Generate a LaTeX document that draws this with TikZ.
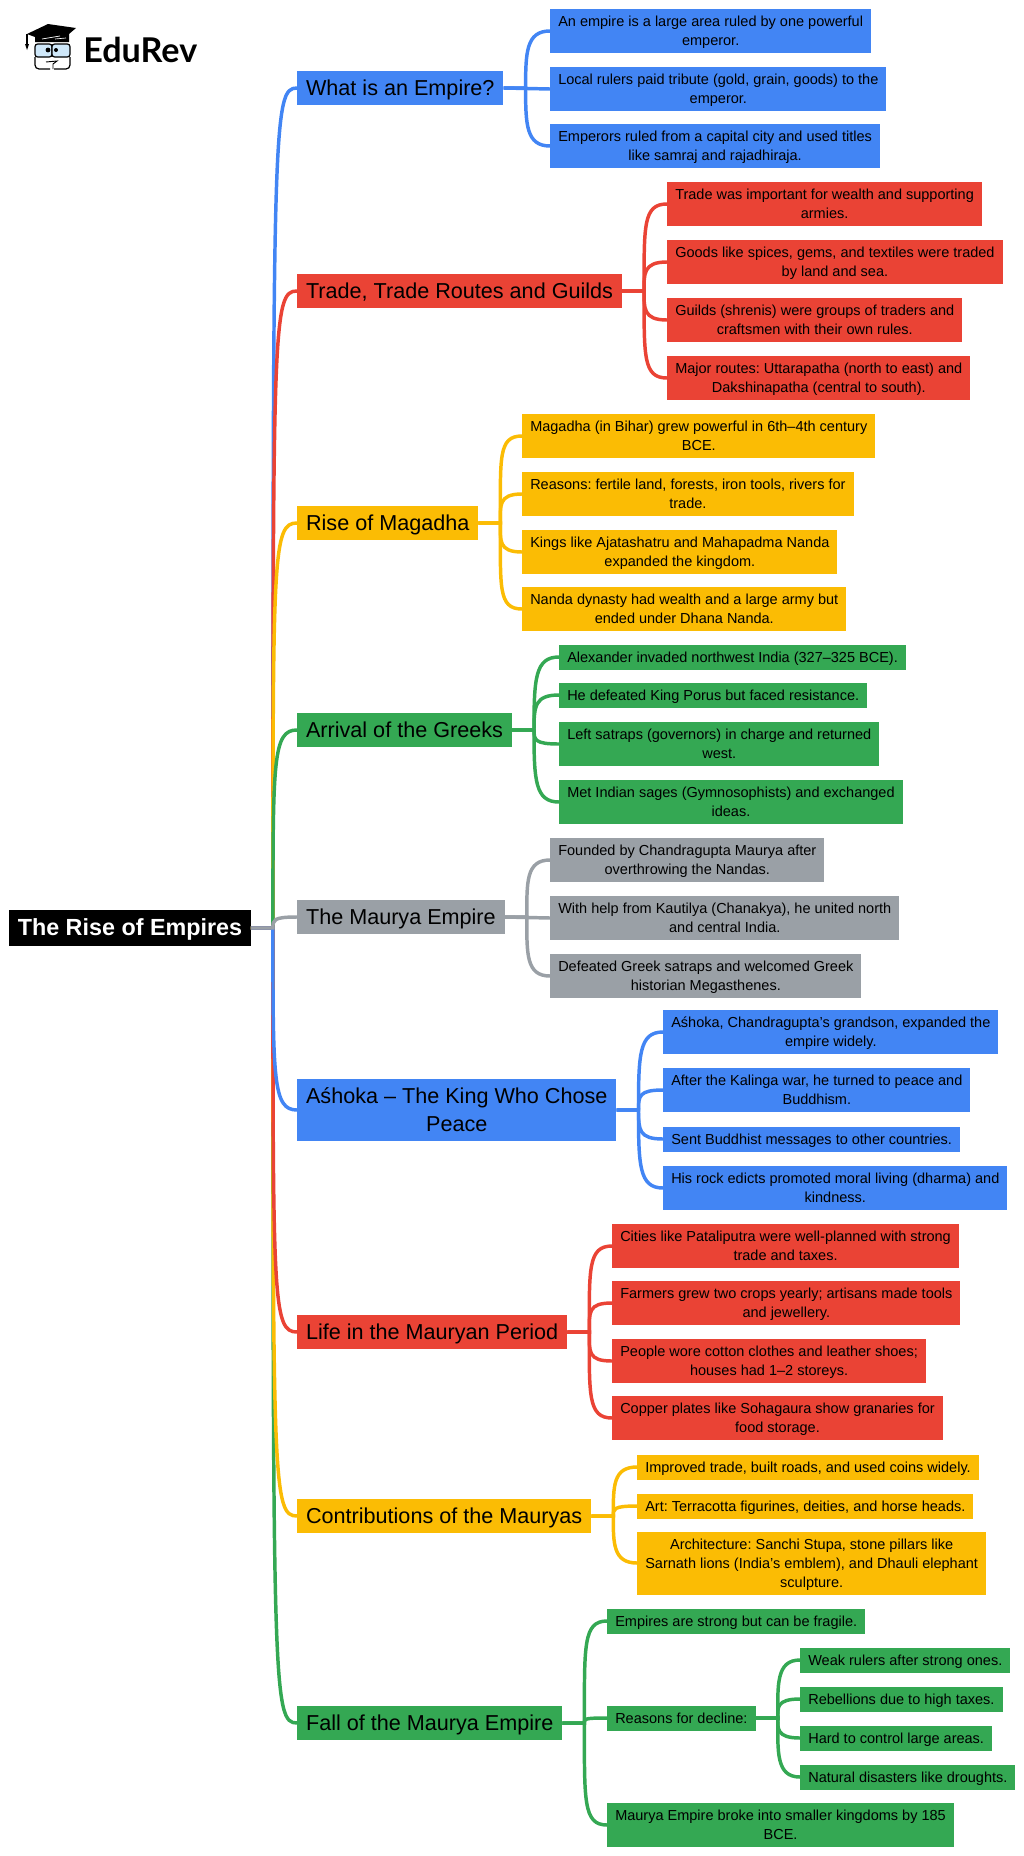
\documentclass[tikz,border=0pt]{standalone}
\usepackage{fontspec}
\setmainfont{Liberation Sans}
\newfontfamily\logofont{Lato}
\frenchspacing
\definecolor{gblue}{HTML}{4285F4}
\definecolor{gred}{HTML}{EA4335}
\definecolor{gyellow}{HTML}{FBBC04}
\definecolor{ggreen}{HTML}{34A853}
\definecolor{ggrey}{HTML}{9AA0A6}
\definecolor{glasses}{HTML}{CFE8FA}
\begin{document}
\begin{tikzpicture}[x=0.75pt, y=-0.75pt]

\tikzstyle{rootbox}=[anchor=west, fill=black, text=white, align=center, inner xsep=6.4pt, inner ysep=2.6pt, text height=16.3pt, text depth=5.1pt, font=\fontsize{17.5}{21.4}\selectfont\bfseries]
\tikzstyle{topbox}=[anchor=west, align=center, inner xsep=6.6pt, inner ysep=1.7pt, text height=16.3pt, text depth=5.1pt, font=\fontsize{16.2}{21.4}\selectfont]
\tikzstyle{toptwo}=[topbox, text height=37.7pt]
\tikzstyle{leafbox}=[anchor=west, align=center, inner xsep=6pt, inner ysep=2.25pt, text height=11pt, text depth=3.25pt, font=\fontsize{10.88}{14.25}\selectfont]
\tikzstyle{leaftwo}=[leafbox, text height=25.25pt]
\tikzstyle{leafthree}=[leafbox, text height=39.5pt]
\tikzstyle{link}=[line width=2.6pt]

\useasboundingbox (0,0) rectangle (1024,1856);

% logo
\fill (27,34) -- (48,24) -- (76,28) -- (69,34) -- (69,42) -- (35,42) -- (35,37) -- cycle;
\draw [white, line width=0.5pt] (42,39) -- (60,36) (55,39) -- (66,38);
\draw [line width=0.8pt] (27,34) -- (27,46);
\fill (25,44) -- (29,44) -- (27,50) -- cycle;
\draw [fill=glasses, line width=0.9pt, rounded corners=2pt] (35,44) rectangle (52,57);
\draw [fill=glasses, line width=0.9pt, rounded corners=2pt] (52,44) rectangle (70,57);
\fill (48,50) circle (2.4);
\fill (56,50) circle (2);
\draw [line width=0.9pt, rounded corners=3pt] (35,57) -- (35,69) -- (50,69);
\draw [line width=0.9pt, rounded corners=3pt] (70,57) -- (70,69) -- (54,69);
\draw [line width=0.7pt] (46,62) -- (57,61) -- (53,64) -- (53,69);

\node (Logo) [anchor=west, inner sep=0pt, font=\fontsize{25.6}{30}\logofont\bfseries] at (83,50) {EduRev};

% root and first level
\node (Root) [rootbox] at (9,928) {The Rise of Empires};

\node (What) [topbox, fill=gblue] at (297,88) {What is an Empire?};
\node (Trade) [topbox, fill=gred] at (297,291) {Trade, Trade Routes and Guilds};
\node (Magadha) [topbox, fill=gyellow] at (297,523) {Rise of Magadha};
\node (Greeks) [topbox, fill=ggreen] at (297,730) {Arrival of the Greeks};
\node (Maurya) [topbox, fill=ggrey] at (297,917) {The Maurya Empire};
\node (Ashoka) [toptwo, fill=gblue] at (297,1110) {Aśhoka – The King Who Chose\\Peace};
\node (Life) [topbox, fill=gred] at (297,1332) {Life in the Mauryan Period};
\node (Contrib) [topbox, fill=gyellow] at (297,1516) {Contributions of the Mauryas};
\node (Fall) [topbox, fill=ggreen] at (297,1723) {Fall of the Maurya Empire};

% leaves
\node (What1) [leaftwo, fill=gblue] at (550,31) {An empire is a large area ruled by one powerful\\emperor.};
\node (What2) [leaftwo, fill=gblue] at (550,89) {Local rulers paid tribute (gold, grain, goods) to the\\emperor.};
\node (What3) [leaftwo, fill=gblue] at (550,146) {Emperors ruled from a capital city and used titles\\like samraj and rajadhiraja.};

\node (Trade1) [leaftwo, fill=gred] at (667,204) {Trade was important for wealth and supporting\\armies.};
\node (Trade2) [leaftwo, fill=gred] at (667,262) {Goods like spices, gems, and textiles were traded\\by land and sea.};
\node (Trade3) [leaftwo, fill=gred] at (667,320) {Guilds (shrenis) were groups of traders and\\craftsmen with their own rules.};
\node (Trade4) [leaftwo, fill=gred] at (667,378) {Major routes: Uttarapatha (north to east) and\\Dakshinapatha (central to south).};

\node (Magadha1) [leaftwo, fill=gyellow] at (522,436) {Magadha (in Bihar) grew powerful in 6th–4th century\\BCE.};
\node (Magadha2) [leaftwo, fill=gyellow] at (522,494) {Reasons: fertile land, forests, iron tools, rivers for\\trade.};
\node (Magadha3) [leaftwo, fill=gyellow] at (522,552) {Kings like Ajatashatru and Mahapadma Nanda\\expanded the kingdom.};
\node (Magadha4) [leaftwo, fill=gyellow] at (522,609) {Nanda dynasty had wealth and a large army but\\ended under Dhana Nanda.};

\node (Greeks1) [leafbox, fill=ggreen] at (559,657) {Alexander invaded northwest India (327–325 BCE).};
\node (Greeks2) [leafbox, fill=ggreen] at (559,695) {He defeated King Porus but faced resistance.};
\node (Greeks3) [leaftwo, fill=ggreen] at (559,744) {Left satraps (governors) in charge and returned\\west.};
\node (Greeks4) [leaftwo, fill=ggreen] at (559,802) {Met Indian sages (Gymnosophists) and exchanged\\ideas.};

\node (Maurya1) [leaftwo, fill=ggrey] at (550,860) {Founded by Chandragupta Maurya after\\overthrowing the Nandas.};
\node (Maurya2) [leaftwo, fill=ggrey] at (550,918) {With help from Kautilya (Chanakya), he united north\\and central India.};
\node (Maurya3) [leaftwo, fill=ggrey] at (550,976) {Defeated Greek satraps and welcomed Greek\\historian Megasthenes.};

\node (Ashoka1) [leaftwo, fill=gblue] at (663,1032) {Aśhoka, Chandragupta’s grandson, expanded the\\empire widely.};
\node (Ashoka2) [leaftwo, fill=gblue] at (663,1090) {After the Kalinga war, he turned to peace and\\Buddhism.};
\node (Ashoka3) [leafbox, fill=gblue] at (663,1139) {Sent Buddhist messages to other countries.};
\node (Ashoka4) [leaftwo, fill=gblue] at (663,1188) {His rock edicts promoted moral living (dharma) and\\kindness.};

\node (Life1) [leaftwo, fill=gred] at (612,1246) {Cities like Pataliputra were well-planned with strong\\trade and taxes.};
\node (Life2) [leaftwo, fill=gred] at (612,1303) {Farmers grew two crops yearly; artisans made tools\\and jewellery.};
\node (Life3) [leaftwo, fill=gred] at (612,1361) {People wore cotton clothes and leather shoes;\\houses had 1–2 storeys.};
\node (Life4) [leaftwo, fill=gred] at (612,1418) {Copper plates like Sohagaura show granaries for\\food storage.};

\node (Contrib1) [leafbox, fill=gyellow] at (637,1467) {Improved trade, built roads, and used coins widely.};
\node (Contrib2) [leafbox, fill=gyellow] at (637,1506) {Art: Terracotta figurines, deities, and horse heads.};
\node (Contrib3) [leafthree, fill=gyellow] at (637,1563) {Architecture: Sanchi Stupa, stone pillars like\\Sarnath lions (India’s emblem), and Dhauli elephant\\sculpture.};

\node (Fall1) [leafbox, fill=ggreen] at (607,1621) {Empires are strong but can be fragile.};
\node (Reasons) [leafbox, fill=ggreen] at (607,1718) {Reasons for decline:};
\node (Fall3) [leaftwo, fill=ggreen] at (607,1825) {Maurya Empire broke into smaller kingdoms by 185\\BCE.};

\node (Reasons1) [leafbox, fill=ggreen] at (800,1660) {Weak rulers after strong ones.};
\node (Reasons2) [leafbox, fill=ggreen] at (800,1699) {Rebellions due to high taxes.};
\node (Reasons3) [leafbox, fill=ggreen] at (800,1738) {Hard to control large areas.};
\node (Reasons4) [leafbox, fill=ggreen] at (800,1777) {Natural disasters like droughts.};

% first level links, later ones on top above the root
\draw [link, gblue] (Root.east) -- ++(22,0) .. controls +(0,-810) and +(-24,0) .. (What.west);
\draw [link, gred] (Root.east) -- ++(22,0) .. controls +(0,-607) and +(-24,0) .. (Trade.west);
\draw [link, gyellow] (Root.east) -- ++(22,0) .. controls +(0,-375) and +(-24,0) .. (Magadha.west);
\draw [link, ggreen] (Root.east) -- ++(22,0) .. controls +(0,-168) and +(-24,0) .. (Greeks.west);
\draw [link, ggreen] (Root.east) -- ++(22,0) .. controls +(0,765) and +(-24,0) .. (Fall.west);
\draw [link, gyellow] (Root.east) -- ++(22,0) .. controls +(0,558) and +(-24,0) .. (Contrib.west);
\draw [link, gred] (Root.east) -- ++(22,0) .. controls +(0,374) and +(-24,0) .. (Life.west);
\draw [link, gblue] (Root.east) -- ++(22,0) .. controls +(0,152) and +(-24,0) .. (Ashoka.west);
\draw [link, ggrey] (Root.east) -- ++(22,0) .. controls +(0,-8) and +(-24,0) .. (Maurya.west);

% second level links
\draw [link, gblue] (What.east) -- ++(22,0) .. controls +(0,-35) and +(-24,0) .. (What1.west);
\draw [link, gblue] (What.east) -- (What2.west);
\draw [link, gblue] (What.east) -- ++(22,0) .. controls +(0,36) and +(-24,0) .. (What3.west);

\draw [link, gred] (Trade.east) -- ++(22,0) .. controls +(0,-65) and +(-24,0) .. (Trade1.west);
\draw [link, gred] (Trade.east) -- ++(22,0) .. controls +(0,-17) and +(-24,0) .. (Trade2.west);
\draw [link, gred] (Trade.east) -- ++(22,0) .. controls +(0,17) and +(-24,0) .. (Trade3.west);
\draw [link, gred] (Trade.east) -- ++(22,0) .. controls +(0,65) and +(-24,0) .. (Trade4.west);

\draw [link, gyellow] (Magadha.east) -- ++(22,0) .. controls +(0,-65) and +(-24,0) .. (Magadha1.west);
\draw [link, gyellow] (Magadha.east) -- ++(22,0) .. controls +(0,-17) and +(-24,0) .. (Magadha2.west);
\draw [link, gyellow] (Magadha.east) -- ++(22,0) .. controls +(0,17) and +(-24,0) .. (Magadha3.west);
\draw [link, gyellow] (Magadha.east) -- ++(22,0) .. controls +(0,64) and +(-24,0) .. (Magadha4.west);

\draw [link, ggreen] (Greeks.east) -- ++(22,0) .. controls +(0,-51) and +(-24,0) .. (Greeks1.west);
\draw [link, ggreen] (Greeks.east) -- ++(22,0) .. controls +(0,-24) and +(-24,0) .. (Greeks2.west);
\draw [link, ggreen] (Greeks.east) -- ++(22,0) .. controls +(0,10) and +(-24,0) .. (Greeks3.west);
\draw [link, ggreen] (Greeks.east) -- ++(22,0) .. controls +(0,50) and +(-24,0) .. (Greeks4.west);

\draw [link, ggrey] (Maurya.east) -- ++(22,0) .. controls +(0,-35) and +(-24,0) .. (Maurya1.west);
\draw [link, ggrey] (Maurya.east) -- (Maurya2.west);
\draw [link, ggrey] (Maurya.east) -- ++(22,0) .. controls +(0,37) and +(-24,0) .. (Maurya3.west);

\draw [link, gblue] (Ashoka.east) -- ++(22,0) .. controls +(0,-55) and +(-24,0) .. (Ashoka1.west);
\draw [link, gblue] (Ashoka.east) -- ++(22,0) .. controls +(0,-14) and +(-24,0) .. (Ashoka2.west);
\draw [link, gblue] (Ashoka.east) -- ++(22,0) .. controls +(0,20) and +(-24,0) .. (Ashoka3.west);
\draw [link, gblue] (Ashoka.east) -- ++(22,0) .. controls +(0,55) and +(-24,0) .. (Ashoka4.west);

\draw [link, gred] (Life.east) -- ++(22,0) .. controls +(0,-63) and +(-24,0) .. (Life1.west);
\draw [link, gred] (Life.east) -- ++(22,0) .. controls +(0,-20) and +(-24,0) .. (Life2.west);
\draw [link, gred] (Life.east) -- ++(22,0) .. controls +(0,20) and +(-24,0) .. (Life3.west);
\draw [link, gred] (Life.east) -- ++(22,0) .. controls +(0,63) and +(-24,0) .. (Life4.west);

\draw [link, gyellow] (Contrib.east) -- ++(22,0) .. controls +(0,-30) and +(-24,0) .. (Contrib1.west);
\draw [link, gyellow] (Contrib.east) -- ++(22,0) .. controls +(0,-7) and +(-24,0) .. (Contrib2.west);
\draw [link, gyellow] (Contrib.east) -- ++(22,0) .. controls +(0,27) and +(-24,0) .. (Contrib3.west);

\draw [link, ggreen] (Fall.east) -- ++(22,0) .. controls +(0,-77) and +(-24,0) .. (Fall1.west);
\draw [link, ggreen] (Fall.east) -- ++(22,0) .. controls +(0,-4) and +(-24,0) .. (Reasons.west);
\draw [link, ggreen] (Fall.east) -- ++(22,0) .. controls +(0,77) and +(-24,0) .. (Fall3.west);

\draw [link, ggreen] (Reasons.east) -- ++(22,0) .. controls +(0,-33) and +(-24,0) .. (Reasons1.west);
\draw [link, ggreen] (Reasons.east) -- ++(22,0) .. controls +(0,-10) and +(-24,0) .. (Reasons2.west);
\draw [link, ggreen] (Reasons.east) -- ++(22,0) .. controls +(0,10) and +(-24,0) .. (Reasons3.west);
\draw [link, ggreen] (Reasons.east) -- ++(22,0) .. controls +(0,34) and +(-24,0) .. (Reasons4.west);

\end{tikzpicture}
\end{document}
